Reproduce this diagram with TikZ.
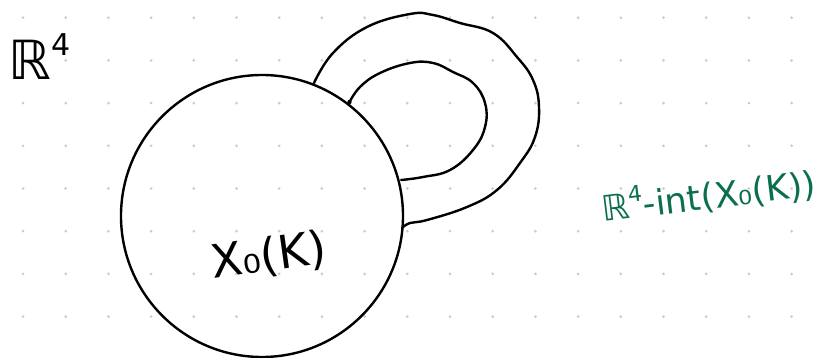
\documentclass[tikz,border=0pt]{standalone}
\usepackage{fontspec}
\newfontfamily\hand{DejaVu Sans}
\definecolor{grn}{HTML}{0B6E4F}
\definecolor{dotc}{HTML}{CCCCCC}
\tikzset{
  stroke/.style={line width=2.4pt, line cap=round, line join=round},
  lbl/.style={inner sep=0pt, font=\hand},
}
\newcommand{\supfour}[1]{\raisebox{0.45em}{\fontsize{#1}{#1}\selectfont 4}}
\begin{document}
\begin{tikzpicture}[x=1pt,y=-1pt]
\useasboundingbox (0,0) rectangle (821,358);
\fill[white] (0,0) rectangle (821,358);
% dot grid
\foreach \i in {0,...,18}{
  \foreach \j in {0,...,7}{
    \fill[dotc] (23+42.7*\i, 17.7+42.7*\j) circle (1.5pt);
  }
}
% main ball
\node[stroke, draw, circle, minimum size=282pt, inner sep=0pt] (X) at (262,216) {};
% handle endpoints on the ball
\coordinate (o1) at (314,83);
\coordinate (o2) at (402,228);
\coordinate (i1) at (349,103);
\coordinate (i2) at (401,180);
% outer loop
\draw[stroke] plot[smooth, tension=0.7] coordinates {
  (314,83) (333,53) (367,27) (410,14) (433,15) (460,23) (493,33) (517,57)
  (533,80) (539,107) (535,137) (520,163) (497,190) (467,207) (427,220) (410,223) (402,228)};
% inner loop
\draw[stroke] plot[smooth, tension=0.7] coordinates {
  (349,103) (360,87) (380,73) (410,63) (433,63) (453,72) (473,83) (485,103)
  (485,127) (473,150) (450,170) (423,177) (401,180)};
\fill (i1) ++(0.5,-1) circle (2.2pt);
% labels
\node[lbl, anchor=base west] (R) at (8,80) {\fontsize{54}{54}\selectfont ℝ\kern1pt\supfour{30}};
\node[lbl, anchor=base west, rotate=8] (XK) at (213,279) {\fontsize{46}{46}\selectfont X₀(K)};
\node[lbl, anchor=base west, rotate=7, text=grn] (C) at (603,222) {\fontsize{35}{35}\selectfont ℝ\supfour{22}-int(X₀(K))};
\end{tikzpicture}
\end{document}
